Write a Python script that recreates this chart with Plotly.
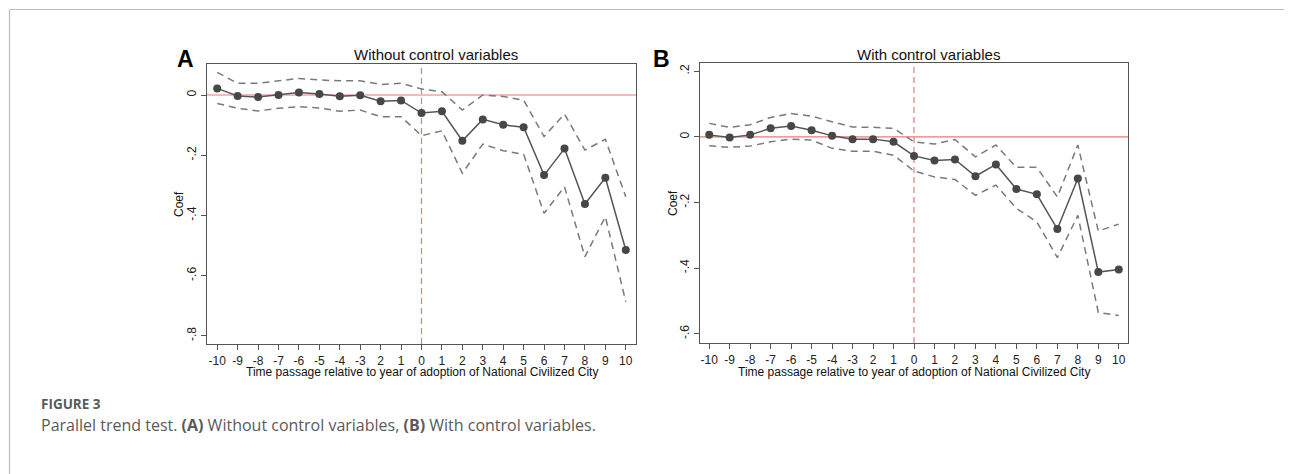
import plotly.graph_objects as go

# ---------------- data ----------------
periods = list(range(-10, 11))
tick_labels = ["-10", "-9", "-8", "-7", "-6", "-5", "-4", "-3", "2", "1", "0",
               "1", "2", "3", "4", "5", "6", "7", "8", "9", "10"]

coef_a = [0.022, -0.003, -0.007, 0.000, 0.008, 0.003, -0.004, -0.001, -0.021, -0.018,
          -0.060, -0.054, -0.152, -0.081, -0.099, -0.107, -0.266, -0.178, -0.362, -0.275, -0.515]
upper_a = [0.075, 0.039, 0.039, 0.047, 0.055, 0.050, 0.047, 0.047, 0.035, 0.039,
           0.020, 0.011, -0.050, 0.000, -0.005, -0.017, -0.138, -0.063, -0.183, -0.147, -0.338]
lower_a = [-0.028, -0.044, -0.053, -0.044, -0.039, -0.043, -0.054, -0.050, -0.072, -0.072,
           -0.135, -0.119, -0.260, -0.163, -0.185, -0.197, -0.393, -0.305, -0.537, -0.404, -0.687]

coef_b = [0.006, -0.002, 0.006, 0.026, 0.033, 0.020, 0.003, -0.007, -0.007, -0.015,
          -0.058, -0.072, -0.069, -0.120, -0.084, -0.159, -0.175, -0.281, -0.127, -0.412, -0.404]
upper_b = [0.041, 0.029, 0.037, 0.059, 0.071, 0.063, 0.046, 0.030, 0.029, 0.026,
           -0.015, -0.022, -0.008, -0.061, -0.025, -0.093, -0.093, -0.183, -0.025, -0.287, -0.266]
lower_b = [-0.027, -0.032, -0.028, -0.015, -0.007, -0.010, -0.035, -0.044, -0.044, -0.056,
           -0.104, -0.122, -0.130, -0.178, -0.147, -0.218, -0.259, -0.368, -0.239, -0.535, -0.544]

ytick_a = [0, -0.2, -0.4, -0.6, -0.8]
ytick_a_text = ["0", "-.2", "-.4", "-.6", "-.8"]
ytick_b = [0.2, 0, -0.2, -0.4, -0.6]
ytick_b_text = [".2", "0", "-.2", "-.4", "-.6"]

# ---------------- styles ----------------
# the page body has an 8px default margin: size the figure to fill the rest of the window
OFF = 8
W, H = 1292 - OFF, 474 - OFF
FONT = "Liberation Sans, Arial, sans-serif"
CI_COLOR = "#7a7a7a"
LINE_COLOR = "#555555"
MARK_COLOR = "#474747"
RED = "#e87a7a"
AX_COLOR = "#555555"

def px_x(p):
    return (p - OFF) / W

def px_y(p):
    return 1 - (p - OFF) / H

fig = go.Figure()

panels = [
    dict(x="x", y="y", coef=coef_a, up=upper_a, lo=lower_a),
    dict(x="x2", y="y2", coef=coef_b, up=upper_b, lo=lower_b),
]
for pn in panels:
    for ci in (pn["up"], pn["lo"]):
        fig.add_trace(go.Scatter(x=periods, y=ci, mode="lines", xaxis=pn["x"], yaxis=pn["y"],
                                 line=dict(color=CI_COLOR, width=1.5, dash="7px,5px"),
                                 showlegend=False, hoverinfo="skip"))
    fig.add_trace(go.Scatter(x=periods, y=pn["coef"], mode="lines+markers", xaxis=pn["x"], yaxis=pn["y"],
                             line=dict(color=LINE_COLOR, width=1.5),
                             marker=dict(color=MARK_COLOR, size=8),
                             showlegend=False))

axis_common = dict(showgrid=False, zeroline=False, showline=True, mirror=True,
                   linecolor=AX_COLOR, linewidth=1.3, ticks="outside", ticklen=5,
                   tickcolor=AX_COLOR, tickwidth=1.2,
                   tickfont=dict(family=FONT, size=12, color="#222"))

fig.update_layout(
    width=W, height=H,
    margin=dict(l=0, r=0, t=0, b=0),
    paper_bgcolor="white", plot_bgcolor="white",
    xaxis=dict(domain=[px_x(207), px_x(636)], range=[-10.5, 10.5], anchor="y",
               tickmode="array", tickvals=periods, ticktext=tick_labels, **axis_common),
    yaxis=dict(domain=[px_y(344), px_y(64)], range=[-0.827, 0.103], anchor="x",
               tickmode="array", tickvals=ytick_a, ticktext=ytick_a_text, tickangle=-90,
               **axis_common),
    xaxis2=dict(domain=[px_x(700), px_x(1128)], range=[-10.45, 10.45], anchor="y2",
                tickmode="array", tickvals=periods, ticktext=tick_labels, **axis_common),
    yaxis2=dict(domain=[px_y(343), px_y(63.3)], range=[-0.628, 0.224], anchor="x2",
                tickmode="array", tickvals=ytick_b, ticktext=ytick_b_text, tickangle=-90,
                **axis_common),
)

# reference lines (red)
for xr, yr in (("x", "y"), ("x2", "y2")):
    fig.add_shape(type="line", xref=f"{xr} domain", yref=yr, x0=0, x1=1, y0=0, y1=0,
                  line=dict(color=RED, width=1.2), layer="below")
    fig.add_shape(type="line", xref=xr, yref=f"{yr} domain", x0=0, x1=0, y0=0, y1=1,
                  line=dict(color=RED, width=1.2, dash="6px,4px"), layer="below")

# page frame
fig.add_shape(type="line", xref="paper", yref="paper", x0=px_x(9.5), x1=1, y0=px_y(9.5), y1=px_y(9.5),
              line=dict(color="#bdbdbd", width=1.2))
fig.add_shape(type="line", xref="paper", yref="paper", x0=px_x(9.5), x1=px_x(9.5), y0=0, y1=px_y(9.5),
              line=dict(color="#bdbdbd", width=1.2))

ann = []
def add_text(text, x, y, size, color="#111", angle=0, xanchor="center", family=FONT):
    ann.append(dict(text=text, x=px_x(x), y=px_y(y), xref="paper", yref="paper",
                    xanchor=xanchor, yanchor="middle", showarrow=False, textangle=angle,
                    font=dict(family=family, size=size, color=color)))

add_text("Without control variables", 436, 54, 15)
add_text("With control variables", 928, 54, 15)
add_text("<b>A</b>", 185.5, 58.5, 23, color="#000")
add_text("<b>B</b>", 661.5, 58.5, 23, color="#000")
add_text("Coef", 179, 204, 12, angle=-90)
add_text("Coef", 673, 203, 12, angle=-90)
xtitle = "Time passage relative to year of adoption of National Civilized City"
add_text(xtitle, 422, 372, 12)
add_text(xtitle, 914, 372, 12)

CAP = "Open Sans, Lato, sans-serif"
add_text("<b>FIGURE 3</b>", 39, 404, 13.5, color="#5a5a5a", xanchor="left", family=CAP)
add_text("Parallel trend test. <b>(A)</b> Without control variables, <b>(B)</b> With control variables.",
         39, 425, 16, color="#5a5a5a", xanchor="left", family=CAP)

fig.update_layout(annotations=ann)

fig.write_html("out.html")
